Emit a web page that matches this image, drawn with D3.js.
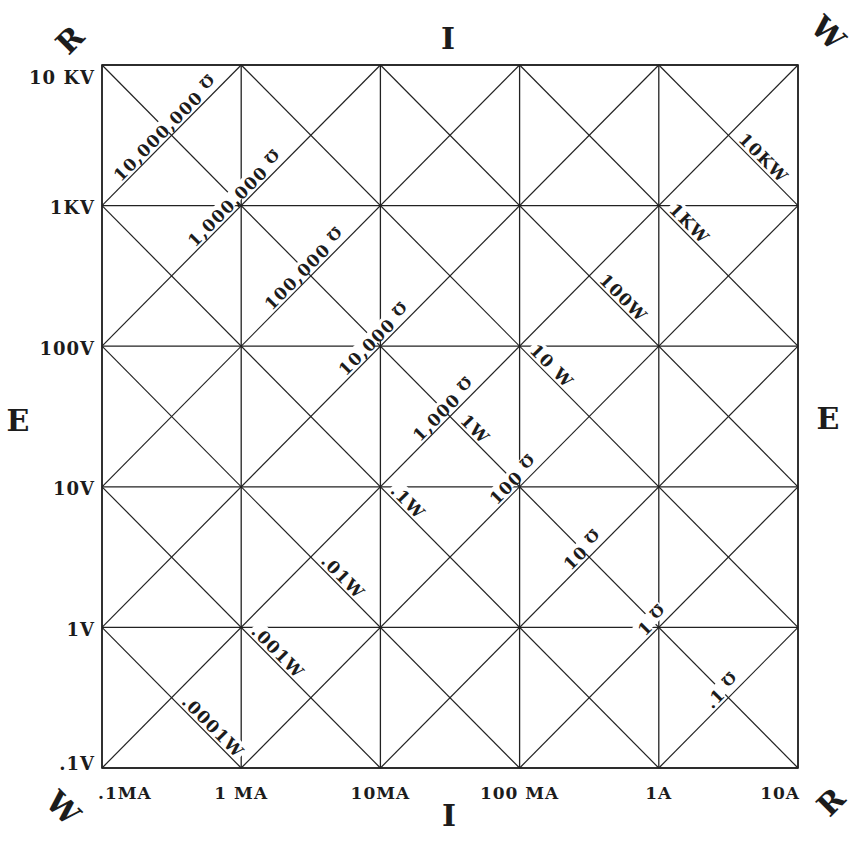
<!DOCTYPE html>
<html>
<head>
<meta charset="utf-8">
<script src="https://cdnjs.cloudflare.com/ajax/libs/d3/7.8.5/d3.min.js"></script>
<style>
  body { margin: 0; background: #fff; }
  svg text { font-family: "DejaVu Serif", serif; font-weight: bold; fill: #1c1c1c; }
</style>
</head>
<body>
<div id="chart"></div>
<script>
const currentTicks = [1e-4, 1e-3, 1e-2, 1e-1, 1, 10];
const currentLabels = [".1MA", "1 MA", "10MA", "100 MA", "1A", "10A"];
const voltageTicks = [0.1, 1, 10, 100, 1e3, 1e4];
const voltageLabels = [".1V", "1V", "10V", "100V", "1KV", "10 KV"];
const resistances = [0.1, 1, 10, 100, 1e3, 1e4, 1e5, 1e6, 1e7];
const resistanceLabels = [".1", "1", "10", "100", "1,000", "10,000", "100,000", "1,000,000", "10,000,000"];
const powers = [1e-4, 1e-3, 1e-2, 0.1, 1, 10, 100, 1e3, 1e4];
const powerLabels = [".0001W", ".001W", ".01W", ".1W", "1W", "10 W", "100W", "1KW", "10KW"];

const WIDTH = 857, HEIGHT = 841;
const MARGIN = { left: 102, right: 59, top: 65, bottom: 73 };
const LINE = "#222";
const BASE_OFF = 3;      // gap between a diagonal and the baseline of its label
const START_GAP = 10;    // W labels start a little after the crossing

const svg = d3.select("#chart")
    .append("svg")
    .attr("width", WIDTH)
    .attr("height", HEIGHT);

const x = d3.scaleLog()
    .domain([currentTicks[0], currentTicks[currentTicks.length - 1]])
    .range([MARGIN.left, WIDTH - MARGIN.right]);

const y = d3.scaleLog()
    .domain([voltageTicks[0], voltageTicks[voltageTicks.length - 1]])
    .range([HEIGHT - MARGIN.bottom, MARGIN.top]);

const [iMin, iMax] = x.domain();
const [eMin, eMax] = y.domain();

// grid
const grid = svg.append("g").attr("stroke", LINE).attr("stroke-width", 1.3);

grid.selectAll("line.v")
    .data(currentTicks)
    .join("line")
    .attr("x1", d => x(d)).attr("x2", d => x(d))
    .attr("y1", y(eMin)).attr("y2", y(eMax));

grid.selectAll("line.h")
    .data(voltageTicks)
    .join("line")
    .attr("class", "h")
    .attr("x1", x(iMin)).attr("x2", x(iMax))
    .attr("y1", d => y(d)).attr("y2", d => y(d));

// constant resistance lines: E = R * I
const rSeg = r => {
    const i0 = Math.max(iMin, eMin / r), i1 = Math.min(iMax, eMax / r);
    return [[i0, r * i0], [i1, r * i1]];
};
// constant power lines: E = W / I
const wSeg = w => {
    const i0 = Math.max(iMin, w / eMax), i1 = Math.min(iMax, w / eMin);
    return [[i0, w / i0], [i1, w / i1]];
};

const diag = svg.append("g").attr("stroke", LINE).attr("stroke-width", 1.2);

diag.selectAll("line.r")
    .data(resistances.map(rSeg))
    .join("line")
    .attr("class", "r")
    .attr("x1", d => x(d[0][0])).attr("y1", d => y(d[0][1]))
    .attr("x2", d => x(d[1][0])).attr("y2", d => y(d[1][1]));

diag.selectAll("line.w")
    .data(powers.map(wSeg))
    .join("line")
    .attr("class", "w")
    .attr("x1", d => x(d[0][0])).attr("y1", d => y(d[0][1]))
    .attr("x2", d => x(d[1][0])).attr("y2", d => y(d[1][1]));

const deg = 180 / Math.PI;
const rAngle = Math.atan2(y(10) - y(1), x(10) - x(1)) * deg;
const wAngle = Math.atan2(y(1) - y(10), x(10) - x(1)) * deg;

// labels along the diagonals, with a white knockout behind them
const labels = svg.append("g");

const addLabel = (px, py, angle, str, centered, withOhm) => {
    const g = labels.append("g")
        .attr("transform", `translate(${px},${py}) rotate(${angle})`);
    const bg = g.append("rect").attr("fill", "#fff");
    const t = g.append("text")
        .attr("y", -BASE_OFF)
        .style("font-size", "17px")
        .style("letter-spacing", "1.2px")
        .text(str);
    const len = t.node().getComputedTextLength();
    const ohmW = withOhm ? 13 : 0;
    const gap = withOhm ? 7 : 0;
    const total = len + gap + ohmW;
    const start = centered ? -total / 2 : START_GAP;
    t.attr("x", start);

    if (withOhm) {
        g.append("text")
            .attr("transform", `translate(${start + len + gap + ohmW / 2},${-BASE_OFF - 10}) rotate(180)`)
            .attr("text-anchor", "middle")
            .attr("dominant-baseline", "central")
            .style("font-size", "15px")
            .text("Ω");
    }

    bg.attr("x", start - 2)
        .attr("width", total + 3)
        .attr("y", -BASE_OFF - 16)
        .attr("height", 14.5);
};

resistances.forEach((r, i) => {
    const e = Math.sqrt(r), c = 1 / Math.sqrt(r);
    addLabel(x(c), y(e), rAngle, resistanceLabels[i], true, true);
});

powers.forEach((w, i) => {
    const e = Math.sqrt(w * 1000), c = Math.sqrt(w / 1000);
    addLabel(x(c), y(e), wAngle, powerLabels[i], false, false);
});

// frame
svg.append("rect")
    .attr("x", x(iMin)).attr("y", y(eMax))
    .attr("width", x(iMax) - x(iMin))
    .attr("height", y(eMin) - y(eMax))
    .attr("fill", "none")
    .attr("stroke", LINE)
    .attr("stroke-width", 1.6);

// tick labels
svg.append("g").selectAll("text")
    .data(voltageTicks)
    .join("text")
    .attr("x", MARGIN.left - 7)
    .attr("y", (d, i) => {
        if (i === 0) return y(d) - 5;
        if (i === voltageTicks.length - 1) return y(d) + 12;
        return y(d) + 2;
    })
    .attr("text-anchor", "end")
    .attr("dominant-baseline", "central")
    .style("font-size", "18px")
    .style("letter-spacing", "1px")
    .text((d, i) => voltageLabels[i]);

svg.append("g").selectAll("text")
    .data(currentTicks)
    .join("text")
    .attr("x", (d, i) => {
        if (i === 0) return x(d) - 4;
        if (i === currentTicks.length - 1) return x(d) + 2;
        return x(d);
    })
    .attr("y", y(eMin) + 31)
    .attr("text-anchor", (d, i) => i === 0 ? "start" : (i === currentTicks.length - 1 ? "end" : "middle"))
    .style("font-size", "17px")
    .style("letter-spacing", "1px")
    .text((d, i) => currentLabels[i]);

// axis letters
const big = (px, py, angle, str) => svg.append("text")
    .attr("transform", `translate(${px},${py}) rotate(${angle})`)
    .attr("text-anchor", "middle")
    .attr("dominant-baseline", "central")
    .style("font-size", "30px")
    .text(str);

big(448, 38, 0, "I");
big(449, 815, 0, "I");
big(18, 420, 0, "E");
big(828, 418, 0, "E");
big(70, 40, -45, "R");
big(831, 802, -45, "R");
big(828, 33, 45, "W");
big(63, 808, 45, "W");
</script>
</body>
</html>
